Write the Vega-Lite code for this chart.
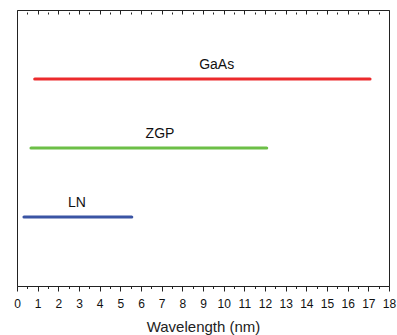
{
  "$schema": "https://vega.github.io/schema/vega-lite/v6.json",
  "width": 372,
  "height": 276,
  "autosize": {"type": "none"},
  "padding": {"left": 17, "top": 10, "right": 8, "bottom": 49},
  "background": "white",
  "config": {
    "view": {"stroke": "#222222", "strokeWidth": 1},
    "font": "Liberation Sans"
  },
  "data": {
    "values": [
      {"material": "GaAs", "start": 0.86, "end": 17.08, "level": 3, "labelx": 9.66},
      {"material": "ZGP", "start": 0.68, "end": 12.08, "level": 2, "labelx": 6.92},
      {"material": "LN", "start": 0.34, "end": 5.55, "level": 1, "labelx": 2.9}
    ]
  },
  "resolve": {"scale": {"x": "independent"}, "axis": {"x": "independent"}},
  "layer": [
    {
      "mark": {"type": "rule", "strokeWidth": 3.2, "strokeCap": "round"},
      "encoding": {
        "x": {
          "field": "start", "type": "quantitative",
          "scale": {"domain": [0, 18], "nice": false, "zero": false},
          "axis": {
            "orient": "bottom",
            "values": [0,0.5,1,1.5,2,2.5,3,3.5,4,4.5,5,5.5,6,6.5,7,7.5,8,8.5,9,9.5,10,10.5,11,11.5,12,12.5,13,13.5,14,14.5,15,15.5,16,16.5,17,17.5,18],
            "labelExpr": "datum.value % 1 === 0 ? format(datum.value, 'd') : ''",
            "tickSize": {"condition": {"test": "datum.value % 1 === 0", "value": 5}, "value": 2.5},
            "tickColor": "#222222",
            "domainColor": "#222222",
            "grid": false,
            "labelFontSize": 12,
            "labelColor": "#111111",
            "labelPadding": 7,
            "labelFlush": false,
            "labelOverlap": false,
            "title": "Wavelength (nm)",
            "titleFontSize": 15,
            "titleFontWeight": "normal",
            "titleColor": "#222222",
            "titlePadding": 10
          }
        },
        "x2": {"field": "end"},
        "y": {
          "field": "level", "type": "quantitative",
          "scale": {"domain": [0, 4], "nice": false},
          "axis": null
        },
        "color": {
          "field": "material", "type": "nominal",
          "scale": {"domain": ["GaAs", "ZGP", "LN"], "range": ["#ec2a2c", "#6cbf47", "#3a54a4"]},
          "legend": null
        }
      }
    },
    {
      "mark": {"type": "text", "dy": -14, "fontSize": 14, "color": "#111111"},
      "encoding": {
        "x": {
          "field": "labelx", "type": "quantitative",
          "scale": {"domain": [0, 18], "nice": false, "zero": false},
          "axis": {
            "orient": "top",
            "offset": -4,
            "zindex": 1,
            "title": "",
            "domain": false,
            "values": [0,0.5,1,1.5,2,2.5,3,3.5,4,4.5,5,5.5,6,6.5,7,7.5,8,8.5,9,9.5,10,10.5,11,11.5,12,12.5,13,13.5,14,14.5,15,15.5,16,16.5,17,17.5,18],
            "labelExpr": "''",
            "tickSize": {"condition": {"test": "datum.value % 1 === 0", "value": 4}, "value": 2},
            "tickColor": "#222222"
          }
        },
        "y": {"field": "level", "type": "quantitative", "scale": {"domain": [0, 4], "nice": false}, "axis": null},
        "text": {"field": "material"}
      }
    }
  ]
}
